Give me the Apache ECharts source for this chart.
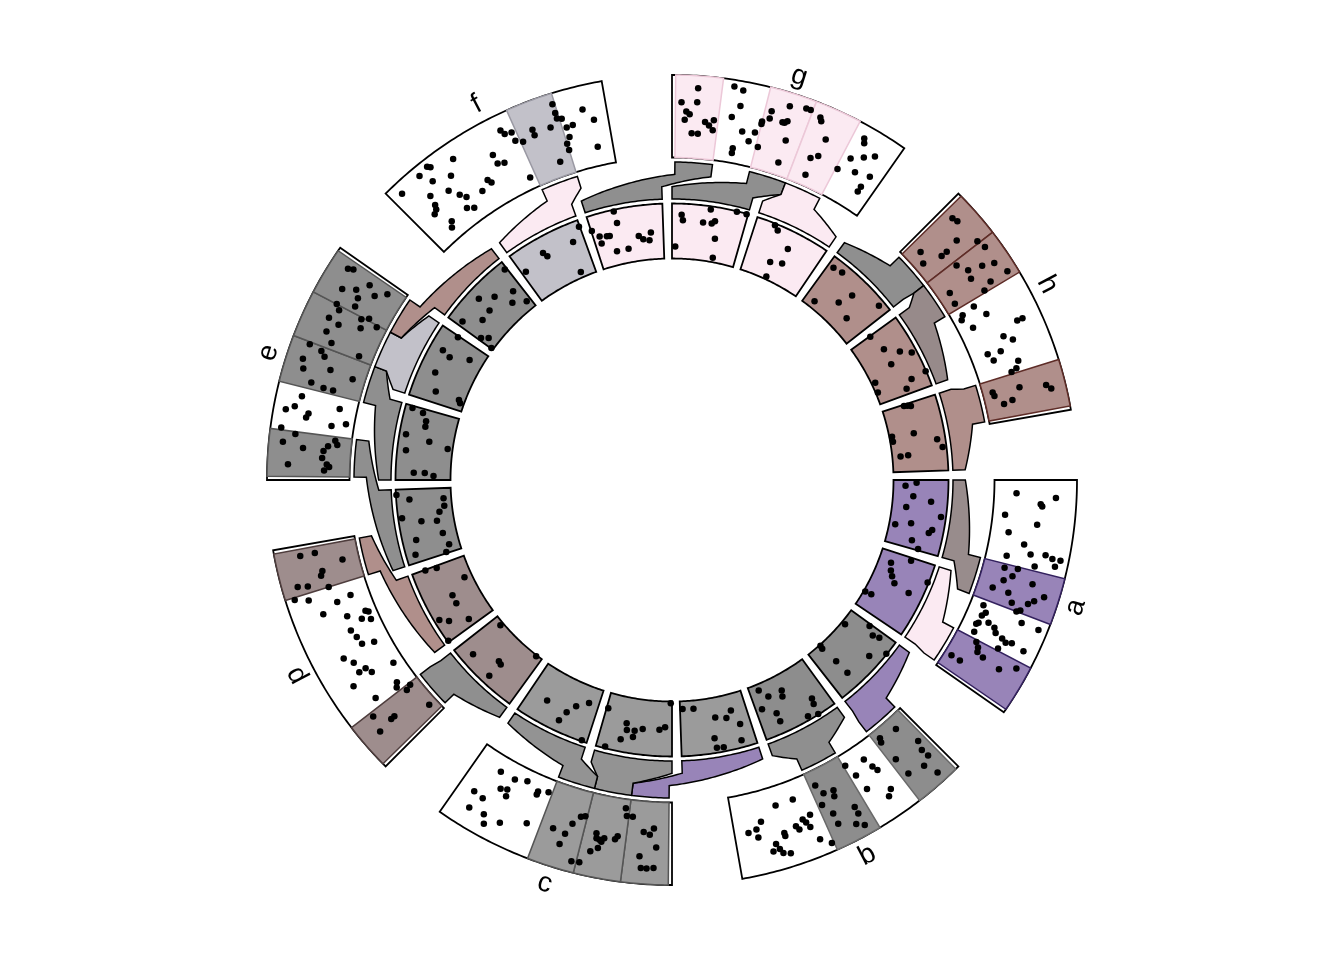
<!DOCTYPE html>
<html><head><meta charset="utf-8">
<script src="https://cdn.jsdelivr.net/npm/echarts@6/dist/echarts.min.js"></script>
<style>html,body{margin:0;padding:0;background:#fff}#c{width:1344px;height:960px}</style>
</head><body><div id="c"></div>
<script>
// ---------- DATA ----------
const sectorNames = ['a','b','c','d','e','f','g','h'];
// outer track points per sector: [x along sector 0..1, y 0..1]
const ptsA = [[0.05,0.27],[0.064,0.75],[0.095,0.57],[0.105,0.59],[0.16,0.15],[0.19,0.55],[0.245,0.22],[0.29,0.43],[0.36,0.25],[0.33,0.53],[0.32,0.71],[0.33,0.80],[0.36,0.85],[0.33,0.90],[0.38,0.61],[0.42,0.26],[0.41,0.42],[0.45,0.38],[0.48,0.29],[0.46,0.64],[0.53,0.19],[0.53,0.39],[0.50,0.82],[0.57,0.47],[0.55,0.66],[0.53,0.72],[0.63,0.16],[0.66,0.22],[0.68,0.19],[0.60,0.56],[0.59,0.60],[0.72,0.19],[0.73,0.17],[0.70,0.30],[0.71,0.39],[0.73,0.43],[0.64,0.67],[0.64,0.89],[0.77,0.19],[0.74,0.53],[0.75,0.59],[0.74,0.66],[0.81,0.27],[0.83,0.32],[0.85,0.34],[0.79,0.54],[0.75,0.83],[0.93,0.09],[0.93,0.21],[0.86,0.43],[0.87,0.67],[0.83,0.85]];
const ptsB = [[0.166,0.11],[0.175,0.16],[0.074,0.15],[0.034,0.44],[0.05,0.55],[0.046,0.65],[0.17,0.43],[0.09,0.71],[0.166,0.66],[0.066,0.88],[0.295,0.20],[0.28,0.33],[0.27,0.40],[0.39,0.14],[0.37,0.31],[0.36,0.52],[0.27,0.68],[0.295,0.74],[0.57,0.18],[0.55,0.31],[0.50,0.33],[0.51,0.40],[0.58,0.43],[0.55,0.58],[0.45,0.63],[0.45,0.72],[0.48,0.82],[0.45,0.88],[0.55,0.72],[0.70,0.23],[0.79,0.23],[0.88,0.37],[0.91,0.45],[0.95,0.47],[0.91,0.55],[0.79,0.58],[0.79,0.62],[0.73,0.55],[0.72,0.60],[0.69,0.50],[0.68,0.55],[0.65,0.48],[0.67,0.62],[0.65,0.80],[0.61,0.90],[0.84,0.68],[0.83,0.75],[0.82,0.81],[0.79,0.84],[0.86,0.76]];
const ptsC = [[0.54,0.55],[0.48,0.57],[0.46,0.43],[0.49,0.71],[0.43,0.32],[0.41,0.30],[0.42,0.87],[0.386,0.86],[0.34,0.47],[0.32,0.54],[0.335,0.53],[0.30,0.51],[0.31,0.56],[0.25,0.50],[0.24,0.46],[0.35,0.70],[0.32,0.64],[0.22,0.11],[0.21,0.20],[0.18,0.20],[0.12,0.37],[0.09,0.40],[0.072,0.32],[0.057,0.55],[0.13,0.67],[0.12,0.81],[0.095,0.81],[0.065,0.80],[0.88,0.19],[0.80,0.19],[0.74,0.14],[0.94,0.56],[0.84,0.37],[0.81,0.34],[0.80,0.42],[0.89,0.58],[0.67,0.24],[0.67,0.20],[0.62,0.16],[0.92,0.76],[0.85,0.74],[0.83,0.84],[0.77,0.74],[0.66,0.61]];
const ptsD = [[0.97,0.69],[0.97,0.51],[0.91,0.20],[0.88,0.47],[0.86,0.50],[0.84,0.81],[0.83,0.69],[0.80,0.45],[0.79,0.89],[0.77,0.73],[0.72,0.41],[0.73,0.23],[0.69,0.62],[0.64,0.36],[0.60,0.21],[0.63,0.13],[0.62,0.10],[0.58,0.11],[0.57,0.39],[0.53,0.36],[0.49,0.34],[0.47,0.20],[0.47,0.62],[0.43,0.54],[0.38,0.54],[0.38,0.45],[0.35,0.41],[0.33,0.13],[0.34,0.69],[0.24,0.55],[0.24,0.23],[0.22,0.27],[0.18,0.19],[0.19,0.12],[0.18,0.71],[0.12,0.56],[0.12,0.51],[0.11,0.76],[0.05,0.10]];
const ptsE = [[0.96,0.78],[0.97,0.72],[0.87,0.71],[0.90,0.56],[0.95,0.45],[0.92,0.33],[0.96,0.21],[0.87,0.49],[0.83,0.47],[0.80,0.68],[0.78,0.62],[0.73,0.69],[0.72,0.55],[0.67,0.65],[0.79,0.33],[0.81,0.25],[0.75,0.29],[0.79,0.12],[0.59,0.78],[0.58,0.62],[0.56,0.56],[0.52,0.80],[0.48,0.76],[0.63,0.54],[0.51,0.44],[0.62,0.17],[0.50,0.15],[0.43,0.62],[0.42,0.46],[0.42,0.34],[0.36,0.69],[0.31,0.75],[0.29,0.85],[0.29,0.57],[0.27,0.59],[0.34,0.21],[0.25,0.27],[0.27,0.10],[0.21,0.87],[0.19,0.69],[0.15,0.83],[0.13,0.58],[0.125,0.33],[0.15,0.28],[0.18,0.20],[0.16,0.17],[0.09,0.34],[0.06,0.28],[0.054,0.75],[0.048,0.25],[0.03,0.31]];
const ptsF = [[0.034,0.86],[0.14,0.88],[0.19,0.91],[0.20,0.88],[0.12,0.61],[0.17,0.73],[0.11,0.49],[0.08,0.41],[0.10,0.44],[0.20,0.52],[0.25,0.65],[0.30,0.80],[0.23,0.40],[0.25,0.33],[0.12,0.21],[0.10,0.15],[0.22,0.22],[0.25,0.17],[0.33,0.28],[0.38,0.36],[0.39,0.31],[0.46,0.59],[0.46,0.47],[0.49,0.44],[0.54,0.81],[0.55,0.75],[0.58,0.73],[0.58,0.62],[0.61,0.57],[0.67,0.66],[0.67,0.59],[0.57,0.14],[0.74,0.18],[0.79,0.87],[0.79,0.76],[0.79,0.69],[0.81,0.67],[0.75,0.61],[0.82,0.55],[0.82,0.43],[0.80,0.36],[0.80,0.28],[0.85,0.56],[0.91,0.71],[0.95,0.56],[0.94,0.23]];
const ptsG = [[0.097,0.85],[0.027,0.67],[0.097,0.68],[0.05,0.56],[0.066,0.53],[0.044,0.46],[0.14,0.45],[0.16,0.41],[0.18,0.48],[0.18,0.36],[0.08,0.30],[0.11,0.30],[0.25,0.92],[0.29,0.89],[0.29,0.70],[0.26,0.55],[0.32,0.40],[0.38,0.42],[0.36,0.30],[0.41,0.26],[0.29,0.18],[0.29,0.12],[0.43,0.72],[0.43,0.63],[0.40,0.57],[0.40,0.54],[0.49,0.63],[0.50,0.63],[0.51,0.66],[0.50,0.84],[0.57,0.88],[0.59,0.88],[0.64,0.84],[0.65,0.80],[0.70,0.62],[0.53,0.43],[0.53,0.15],[0.67,0.34],[0.70,0.40],[0.68,0.13],[0.85,0.84],[0.86,0.79],[0.89,0.64],[0.93,0.72],[0.84,0.55],[0.89,0.43],[0.96,0.48],[0.81,0.36],[0.95,0.32],[0.95,0.25]];
const ptsH = [[0.043,0.74],[0.067,0.76],[0.13,0.60],[0.19,0.79],[0.23,0.82],[0.057,0.18],[0.11,0.11],[0.14,0.34],[0.14,0.42],[0.22,0.41],[0.27,0.49],[0.31,0.46],[0.29,0.66],[0.31,0.80],[0.37,0.88],[0.37,0.64],[0.39,0.52],[0.31,0.15],[0.37,0.13],[0.43,0.31],[0.49,0.40],[0.44,0.14],[0.46,0.10],[0.52,0.18],[0.58,0.70],[0.58,0.77],[0.62,0.47],[0.65,0.56],[0.67,0.21],[0.71,0.25],[0.68,0.37],[0.75,0.53],[0.79,0.41],[0.78,0.48],[0.86,0.12],[0.88,0.13],[0.93,0.22],[0.92,0.33],[0.87,0.45],[0.89,0.77],[0.91,0.82]];

// zoomed regions (outer sector, interval along sector) -> inner sectors, in order
const bandSector = ['a','a','b','b','c','c','c','d','d','e','e','e','e','f','g','g','g','h','h','h'];
const bandFrom   = [0.4,0.8,0.0,0.4,0.0,0.2,0.4,0.0,0.8,0.0,0.4,0.6,0.8,0.6,0.0,0.4,0.6,0.0,0.2,0.8];
const bandTo     = [0.6,1.0,0.2,0.6,0.2,0.4,0.6,0.2,1.0,0.2,0.6,0.8,1.0,0.8,0.2,0.6,0.8,0.2,0.4,1.0];
const bandFill   = ['#9884b8','#9884b8','#8d8d8d','#8d8d8d','#9b9b9b','#9b9b9b','#9b9b9b','#9e8d8d','#9e8d8d','#8e8e8e','#8e8e8e','#8e8e8e','#8e8e8e','#c2c1c9','#fbeaf2','#fbeaf2','#fbeaf2','#b08f8b','#b08f8b','#b08f8b'];
const bandEdge   = ['#33215e','#33215e','#6a6a6a','#6a6a6a','#555555','#555555','#555555','#4e3d3d','#4e3d3d','#555555','#555555','#555555','#555555','#9a99a3','#ecc8d8','#ecc8d8','#ecc8d8','#5e2c27','#5e2c27','#5e2c27'];
const linkFill   = ['#988c8c','#fbeaf2','#9884b8','#8f8f8f','#9884b8','#939393','#939393','#8f8f8f','#b08f8b','#8f8f8f','#8f8f8f','#c2c1c9','#b08f8b','#fbeaf2','#8f8f8f','#8f8f8f','#fbeaf2','#8f8f8f','#978a8a','#b08f8b'];

// points inside each zoomed (inner) sector: [x 0..1, y 0..1]
const zoom1  = [[0.09,0.22],[0.04,0.42],[0.24,0.37],[0.30,0.70],[0.41,0.26],[0.70,0.11],[0.64,0.39],[0.49,0.91],[0.73,0.74],[0.68,0.79],[0.88,0.47],[0.98,0.62]];
const zoom2  = [[0.17,0.23],[0.28,0.28],[0.35,0.34],[0.43,0.43],[0.04,0.56],[0.75,0.03],[0.74,0.15],[0.47,0.74],[0.24,0.98]];
const zoom3  = [[0.24,0.07],[0.03,0.44],[0.11,0.59],[0.08,0.71],[0.36,0.78],[0.19,0.99],[0.73,0.71],[0.76,0.02],[0.77,0.08],[0.74,0.42]];
const zoom4  = [[0.85,0.11],[0.75,0.28],[0.53,0.29],[0.56,0.39],[0.91,0.45],[0.74,0.62],[0.74,0.78],[0.21,0.69],[0.23,0.79],[0.38,0.93],[0.25,0.99]];
const zoom5  = [[0.96,0.14],[0.79,0.15],[0.48,0.36],[0.32,0.41],[0.23,0.30],[0.15,0.58],[0.54,0.73],[0.53,0.91],[0.44,0.92],[0.19,0.87]];
const zoom6  = [[0.02,0.03],[0.975,0.28],[0.66,0.47],[0.64,0.59],[0.53,0.58],[0.42,0.53],[0.10,0.47],[0.18,0.52],[0.70,0.78],[0.54,0.70],[0.88,0.97]];
const zoom7  = [[0.72,0.58],[0.40,0.61],[0.31,0.44],[0.15,0.30],[0.45,0.80],[0.07,0.98]];
const zoom8  = [[0.80,0.78],[0.48,0.53],[0.43,0.55],[0.44,0.84],[0.10,0.02],[0.86,0.06]];
const zoom9  = [[0.99,0.75],[0.97,0.54],[0.68,0.14],[0.52,0.48],[0.39,0.49],[0.31,0.91],[0.23,0.77],[0.10,0.45],[0.02,0.98]];
const zoom10 = [[0.93,0.99],[0.86,0.76],[0.84,0.14],[0.72,0.14],[0.64,0.24],[0.62,0.93],[0.54,0.59],[0.51,0.31],[0.31,0.25],[0.30,0.75],[0.12,0.19],[0.11,0.83],[0.02,0.28]];
const zoom11 = [[0.97,0.87],[0.94,0.66],[0.84,0.57],[0.76,0.56],[0.61,0.88],[0.56,0.44],[0.40,0.84],[0.49,0.09],[0.10,0.67],[0.10,0.47],[0.06,0.31]];
const zoom12 = [[0.72,0.76],[0.68,0.59],[0.79,0.25],[0.98,0.65],[0.40,0.70],[0.16,0.56],[0.16,0.11],[0.12,0.07]];
const zoom13 = [[0.97,0.86],[0.87,0.46],[0.75,0.31],[0.62,0.61],[0.45,0.79],[0.43,0.50],[0.26,0.48],[0.07,0.75],[0.04,0.30],[0.11,0.19],[0.01,0.04],[0.93,0.16]];
const zoom14 = [[0.06,0.60],[0.40,0.72],[0.43,0.63],[0.84,0.66],[0.77,0.10],[0.99,0.88]];
const zoom15 = [[0.36,0.97],[0.37,0.75],[0.09,0.59],[0.09,0.46],[0.19,0.56],[0.23,0.55],[0.28,0.25],[0.46,0.25],[0.64,0.45],[0.70,0.38],[0.79,0.35],[0.82,0.49],[0.01,0.73]];
const zoom16 = [[0.13,0.80],[0.15,0.70],[0.43,0.69],[0.55,0.69],[0.59,0.74],[0.51,0.94],[0.63,0.43],[0.05,0.22],[0.65,0.08],[0.85,0.99],[0.98,0.99]];
const zoom17 = [[0.25,0.97],[0.31,0.90],[0.54,0.67],[0.39,0.32],[0.56,0.39],[0.43,0.05]];
const zoom18 = [[0.08,0.82],[0.21,0.85],[0.52,0.66],[0.16,0.13],[0.87,0.89],[0.45,0.40],[0.70,0.30]];
const zoom19 = [[0.01,0.42],[0.27,0.50],[0.41,0.73],[0.50,0.91],[0.51,0.48],[0.80,0.99],[0.82,0.70],[0.65,0.07],[0.81,0.04],[0.92,0.55]];
const zoom20 = [[0.02,0.40],[0.03,0.46],[0.05,0.52],[0.43,0.05],[0.51,0.05],[0.44,0.45],[0.58,0.85],[0.69,0.93],[0.76,0.15],[0.75,0.29]];

// ---------- LAYOUT ----------
const OUTER_GAP = 10, INNER_GAP = 2, OUTER_PAD = 0.015;
const outerPts = [ptsA, ptsB, ptsC, ptsD, ptsE, ptsF, ptsG, ptsH];
const zoomPts = [zoom1,zoom2,zoom3,zoom4,zoom5,zoom6,zoom7,zoom8,zoom9,zoom10,zoom11,zoom12,zoom13,zoom14,zoom15,zoom16,zoom17,zoom18,zoom19,zoom20];
const nOut = sectorNames.length, nIn = bandSector.length;
const outStep = 360 / nOut, outW = outStep - OUTER_GAP;
const inStep = 360 / nIn, inW = inStep - INNER_GAP;
const outStart = i => i * outStep;
const inStart = k => k * inStep;
// position of a data x (0..1) inside outer sector i (cell padding on both ends)
const outX = (i, x) => outStart(i) + (OUTER_PAD + x * (1 - 2 * OUTER_PAD)) * outW;
const bandRange = k => {
  const si = sectorNames.indexOf(bandSector[k]);
  return [outX(si, bandFrom[k]), outX(si, bandTo[k])];
};

function sampled(api, verts) {
  const out = [];
  for (let i = 0; i < verts.length; i++) {
    const p = verts[i], q = verts[(i + 1) % verts.length];
    const n = Math.max(1, Math.ceil(Math.abs(q[1] - p[1]) / 0.5));
    for (let s = 0; s < n; s++) {
      const t = s / n;
      out.push(api.coord([p[0] + (q[0] - p[0]) * t, p[1] + (q[1] - p[1]) * t]));
    }
  }
  return out;
}
const cell = (a0, a1) => [[0, a0], [0, a1], [1, a1], [1, a0]];

const outerScatter = [];
outerPts.forEach((arr, i) => arr.forEach(p => outerScatter.push([p[1], outX(i, p[0])])));
const innerScatter = [];
zoomPts.forEach((arr, k) => arr.forEach(p => innerScatter.push([p[1], inStart(k) + p[0] * inW])));

const dummy = n => Array.from({length: n}, () => [0.5, 0]);
const FONT = "'Liberation Sans', Arial, Helvetica, sans-serif";

const chart = echarts.init(document.getElementById('c'), null, {renderer: 'canvas'});
const polarBase = {center: ['50%', '50%']};
chart.setOption({
  animation: false,
  backgroundColor: '#ffffff',
  polar: [
    Object.assign({radius: [322.5, 405]}, polarBase),
    Object.assign({radius: [281, 318]}, polarBase),
    Object.assign({radius: [221.5, 276.5]}, polarBase)
  ],
  angleAxis: [0, 1, 2].map(i => ({polarIndex: i, type: 'value', min: 0, max: 360, startAngle: 0, clockwise: true, show: false})),
  radiusAxis: [0, 1, 2].map(i => ({polarIndex: i, type: 'value', min: 0, max: 1, show: false})),
  series: [
    { // outer sector cells
      type: 'custom', coordinateSystem: 'polar', polarIndex: 0, z: 1, silent: true,
      data: dummy(nOut),
      renderItem: (params, api) => {
        const a0 = outStart(params.dataIndex);
        return {type: 'polygon', shape: {points: sampled(api, cell(a0, a0 + outW))},
          style: {fill: '#ffffff', stroke: '#000000', lineWidth: 1.8}};
      }
    },
    { // highlighted intervals in the outer track
      type: 'custom', coordinateSystem: 'polar', polarIndex: 0, z: 2, silent: true,
      data: dummy(nIn),
      renderItem: (params, api) => {
        const k = params.dataIndex, r = bandRange(k);
        return {type: 'polygon', shape: {points: sampled(api, cell(r[0], r[1]))},
          style: {fill: bandFill[k], stroke: bandEdge[k], lineWidth: 1.5}};
      }
    },
    { // outer points
      type: 'scatter', coordinateSystem: 'polar', polarIndex: 0, z: 3, silent: true, clip: false,
      symbol: 'circle', symbolSize: 6.5, itemStyle: {color: '#000000', opacity: 1}, data: outerScatter
    },
    { // sector labels
      type: 'custom', coordinateSystem: 'polar', polarIndex: 0, z: 3, silent: true,
      data: dummy(nOut),
      renderItem: (params, api) => {
        const i = params.dataIndex, mid = outStart(i) + outW / 2;
        const p = api.coord([1.22, mid]);
        const cs = params.coordSys;
        const th = Math.atan2(p[1] - cs.cy, p[0] - cs.cx);
        const lower = Math.sin(th) > 0;
        const phi = lower ? th - Math.PI / 2 : th + Math.PI / 2;
        return {type: 'text', x: p[0], y: p[1], rotation: -phi,
          style: {text: sectorNames[i], fontSize: 28, fontFamily: FONT, fill: '#000000',
            align: 'center', verticalAlign: 'middle', textAlign: 'center', textVerticalAlign: 'middle'}};
      }
    },
    { // connections between outer intervals and inner sectors
      type: 'custom', coordinateSystem: 'polar', polarIndex: 1, z: 2, silent: true,
      data: dummy(nIn),
      renderItem: (params, api) => {
        const k = params.dataIndex;
        const i0 = inStart(k), i1 = i0 + inW;
        const b = bandRange(k);
        const h1 = 1 / 3, h2 = 2 / 3;
        const verts = [[0, i0], [0, i1], [h1, i1], [h2, b[1]], [1, b[1]], [1, b[0]], [h2, b[0]], [h1, i0]];
        return {type: 'polygon', shape: {points: sampled(api, verts)},
          style: {fill: linkFill[k], stroke: '#000000', lineWidth: 1.5}};
      }
    },
    { // inner (zoomed) sectors
      type: 'custom', coordinateSystem: 'polar', polarIndex: 2, z: 1, silent: true,
      data: dummy(nIn),
      renderItem: (params, api) => {
        const k = params.dataIndex, a0 = inStart(k);
        return {type: 'polygon', shape: {points: sampled(api, cell(a0, a0 + inW))},
          style: {fill: bandFill[k], stroke: '#000000', lineWidth: 1.8}};
      }
    },
    { // inner points
      type: 'scatter', coordinateSystem: 'polar', polarIndex: 2, z: 3, silent: true, clip: false,
      symbol: 'circle', symbolSize: 6.5, itemStyle: {color: '#000000', opacity: 1}, data: innerScatter
    }
  ]
});
</script>
</body></html>
